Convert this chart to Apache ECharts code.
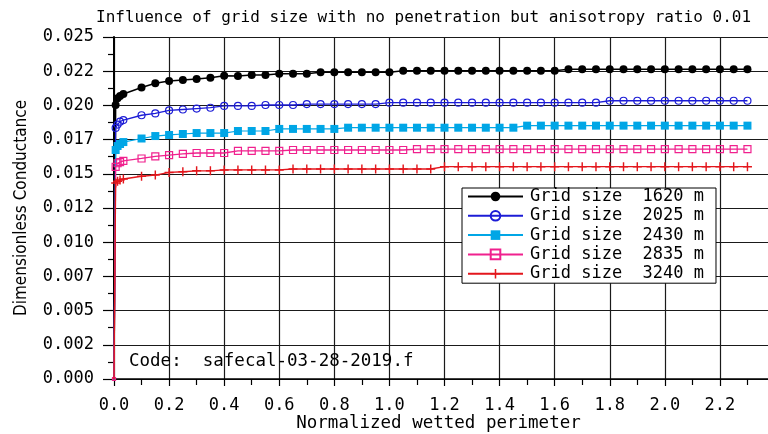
<!DOCTYPE html>
<html><head><meta charset="utf-8">
<script src="https://cdn.jsdelivr.net/npm/echarts@6/dist/echarts.min.js"></script>
<style>html,body{margin:0;padding:0;background:#fff}#c{width:768px;height:434px}</style>
</head><body><div id="c"></div>
<script>
const titleText = 'Influence of grid size with no penetration but anisotropy ratio 0.01';
const codeText = 'Code:  safecal-03-28-2019.f';
const xName = 'Normalized wetted perimeter';
const yName = 'Dimensionless Conductance';
const seriesNames = ['Grid size  1620 m', 'Grid size  2025 m', 'Grid size  2430 m', 'Grid size  2835 m', 'Grid size  3240 m'];
const xTickLabels = ['0.0','0.2','0.4','0.6','0.8','1.0','1.2','1.4','1.6','1.8','2.0','2.2'];
const yTickLabels = ['0.000','0.002','0.005','0.007','0.010','0.012','0.015','0.017','0.020','0.022','0.025'];

const xValues = [0, 0.006, 0.013, 0.022, 0.034,
  0.10, 0.15, 0.20, 0.25, 0.30, 0.35, 0.40, 0.45, 0.50, 0.55,
  0.60, 0.65, 0.70, 0.75, 0.80, 0.85, 0.90, 0.95, 1.00, 1.05,
  1.10, 1.15, 1.20, 1.25, 1.30, 1.35, 1.40, 1.45, 1.50, 1.55,
  1.60, 1.65, 1.70, 1.75, 1.80, 1.85, 1.90, 1.95, 2.00, 2.05,
  2.10, 2.15, 2.20, 2.25, 2.30];

const grid1620 = [0, 0.02003, 0.02052, 0.02069, 0.02083,
  0.02131, 0.02162, 0.02178, 0.02186, 0.02193, 0.02202, 0.02217, 0.02215, 0.02222, 0.02222,
  0.02232, 0.02232, 0.02232, 0.02242, 0.02242, 0.02242, 0.02242, 0.02242, 0.02242, 0.02254,
  0.02254, 0.02254, 0.02254, 0.02254, 0.02254, 0.02254, 0.02254, 0.02254, 0.02254, 0.02254,
  0.02254, 0.02264, 0.02264, 0.02264, 0.02264, 0.02264, 0.02264, 0.02264, 0.02264, 0.02264,
  0.02264, 0.02264, 0.02264, 0.02264, 0.02264];

const grid2025 = [0, 0.01835, 0.01860, 0.01881, 0.01893,
  0.01928, 0.01941, 0.01963, 0.01970, 0.01977, 0.01983, 0.01996, 0.01996, 0.01996, 0.02003,
  0.02003, 0.02003, 0.02010, 0.02010, 0.02010, 0.02010, 0.02010, 0.02010, 0.02020, 0.02020,
  0.02020, 0.02020, 0.02020, 0.02020, 0.02020, 0.02020, 0.02020, 0.02020, 0.02020, 0.02020,
  0.02020, 0.02020, 0.02020, 0.02020, 0.02034, 0.02034, 0.02034, 0.02034, 0.02034, 0.02034,
  0.02034, 0.02034, 0.02034, 0.02034, 0.02034];

const grid2430 = [0, 0.01674, 0.01703, 0.01718, 0.01732,
  0.01758, 0.01776, 0.01784, 0.01791, 0.01798, 0.01798, 0.01798, 0.01813, 0.01813, 0.01813,
  0.01828, 0.01828, 0.01828, 0.01828, 0.01828, 0.01837, 0.01837, 0.01837, 0.01837, 0.01837,
  0.01837, 0.01837, 0.01837, 0.01837, 0.01837, 0.01837, 0.01837, 0.01837, 0.01852, 0.01852,
  0.01852, 0.01852, 0.01852, 0.01852, 0.01852, 0.01852, 0.01852, 0.01852, 0.01852, 0.01852,
  0.01852, 0.01852, 0.01852, 0.01852, 0.01852];

const grid2835 = [0, 0.01550, 0.01577, 0.01586, 0.01594,
  0.01612, 0.01628, 0.01637, 0.01645, 0.01652, 0.01652, 0.01652, 0.01667, 0.01667, 0.01667,
  0.01667, 0.01674, 0.01674, 0.01674, 0.01674, 0.01674, 0.01674, 0.01674, 0.01674, 0.01674,
  0.01680, 0.01680, 0.01680, 0.01680, 0.01680, 0.01680, 0.01680, 0.01680, 0.01680, 0.01680,
  0.01680, 0.01680, 0.01680, 0.01680, 0.01680, 0.01680, 0.01680, 0.01680, 0.01680, 0.01680,
  0.01680, 0.01680, 0.01680, 0.01680, 0.01680];

const grid3240 = [0, 0.01433, 0.01445, 0.01455, 0.01462,
  0.01482, 0.01491, 0.01510, 0.01515, 0.01522, 0.01522, 0.01528, 0.01528, 0.01528, 0.01528,
  0.01528, 0.01535, 0.01535, 0.01535, 0.01535, 0.01535, 0.01535, 0.01535, 0.01535, 0.01535,
  0.01535, 0.01535, 0.01552, 0.01552, 0.01552, 0.01552, 0.01552, 0.01552, 0.01552, 0.01552,
  0.01552, 0.01552, 0.01552, 0.01552, 0.01552, 0.01552, 0.01552, 0.01552, 0.01552, 0.01552,
  0.01552, 0.01552, 0.01552, 0.01552, 0.01552];

const allValues = [grid1620, grid2025, grid2430, grid2835, grid3240];

const MONO = "'DejaVu Sans Mono', monospace";
const plusPath = 'path://M4.2,0h1.6v4.2h4.2v1.6h-4.2v4.2h-1.6v-4.2h-4.2v-1.6h4.2z';
const looks = [
  {color: '#000000', symbol: 'circle', size: 8, width: 1.5, fill: '#000000'},
  {color: '#1c1cd6', symbol: 'circle', size: 7, width: 1.3, fill: 'rgba(255,255,255,0)'},
  {color: '#00a6e6', symbol: 'rect', size: 8, width: 1.2, fill: '#00a6e6'},
  {color: '#f0218e', symbol: 'rect', size: 7, width: 1.3, fill: 'rgba(255,255,255,0)'},
  {color: '#e3161c', symbol: plusPath, size: 9, width: 1.3, fill: '#e3161c'}
];

const chart = echarts.init(document.getElementById('c'), null, {renderer: 'canvas'});
chart.setOption({
  animation: false,
  backgroundColor: '#fff',
  title: {
    text: titleText, left: 96, top: 10, padding: 0,
    textStyle: {fontFamily: MONO, fontSize: 16, fontWeight: 'normal', color: '#000'}
  },
  grid: {left: 114, top: 37, width: 661, height: 342, containLabel: false, outerBoundsMode: 'none'},
  legend: {
    orient: 'vertical', left: 462, top: 188,
    itemWidth: 55, itemHeight: 12, itemGap: 2.3,
    padding: [0, 12, 1, 5],
    borderColor: '#000', borderWidth: 1, backgroundColor: '#fff',
    textStyle: {fontFamily: MONO, fontSize: 17, color: '#000', padding: [0, 0, 0, 2]},
    data: seriesNames
  },
  xAxis: {
    type: 'value', min: 0, max: 2.4, interval: 0.2,
    name: xName, nameLocation: 'middle', nameGap: 35, nameMoveOverlap: false,
    nameTextStyle: {fontFamily: MONO, fontSize: 17.5, color: '#000', padding: [0, 12, 0, 0]},
    axisLine: {show: true, onZero: false, lineStyle: {color: '#000', width: 1.5}},
    axisTick: {show: true, inside: false, length: 7, lineStyle: {color: '#000', width: 1.2}},
    minorTick: {show: true, splitNumber: 2, length: 6, lineStyle: {color: '#000', width: 1.2}},
    axisLabel: {
      margin: 18, fontFamily: MONO, fontSize: 17, color: '#000', showMaxLabel: false,
      formatter: function (v) {
        const i = Math.round(v / 0.2);
        return (Math.abs(v - i * 0.2) < 1e-6 && i < xTickLabels.length) ? xTickLabels[i] : '';
      }
    },
    splitLine: {show: true, lineStyle: {color: '#1a1a1a', width: 1.2}}
  },
  yAxis: {
    type: 'value', min: 0, max: 0.025, interval: 0.0025,
    name: yName, nameLocation: 'middle', nameGap: 84, nameRotate: 90, nameMoveOverlap: false,
    nameTextStyle: {fontFamily: "'DejaVu Sans Condensed', 'Liberation Sans Narrow', sans-serif", fontSize: 17, color: '#000'},
    axisLine: {show: true, onZero: false, lineStyle: {color: '#000', width: 2}},
    axisTick: {show: true, inside: false, length: 11, lineStyle: {color: '#000', width: 1.2}},
    minorTick: {show: true, splitNumber: 2, length: 6, lineStyle: {color: '#000', width: 1.2}},
    axisLabel: {
      margin: 20, fontFamily: MONO, fontSize: 17, color: '#000',
      formatter: function (v) { return yTickLabels[Math.round(v / 0.0025)] || ''; }
    },
    splitLine: {show: true, lineStyle: {color: '#1a1a1a', width: 1.2}}
  },
  graphic: [{
    type: 'text', left: 129, top: 352, z: 100,
    style: {text: codeText, fontFamily: MONO, fontSize: 17.5, fill: '#000'}
  }],
  series: allValues.map(function (vals, k) {
    const lk = looks[k];
    return {
      type: 'line', name: seriesNames[k],
      data: xValues.map(function (x, i) { return [x, vals[i]]; }),
      symbol: lk.symbol,
      symbolSize: function (v, p) { return p.dataIndex === 0 ? 3 : lk.size; },
      showAllSymbol: true,
      lineStyle: {color: lk.color, width: lk.width},
      itemStyle: {color: lk.fill, borderColor: lk.color, borderWidth: lk.fill === lk.color ? 0 : 1.2},
      emphasis: {disabled: true},
      z: 3 + k
    };
  })
});
</script>
</body></html>
